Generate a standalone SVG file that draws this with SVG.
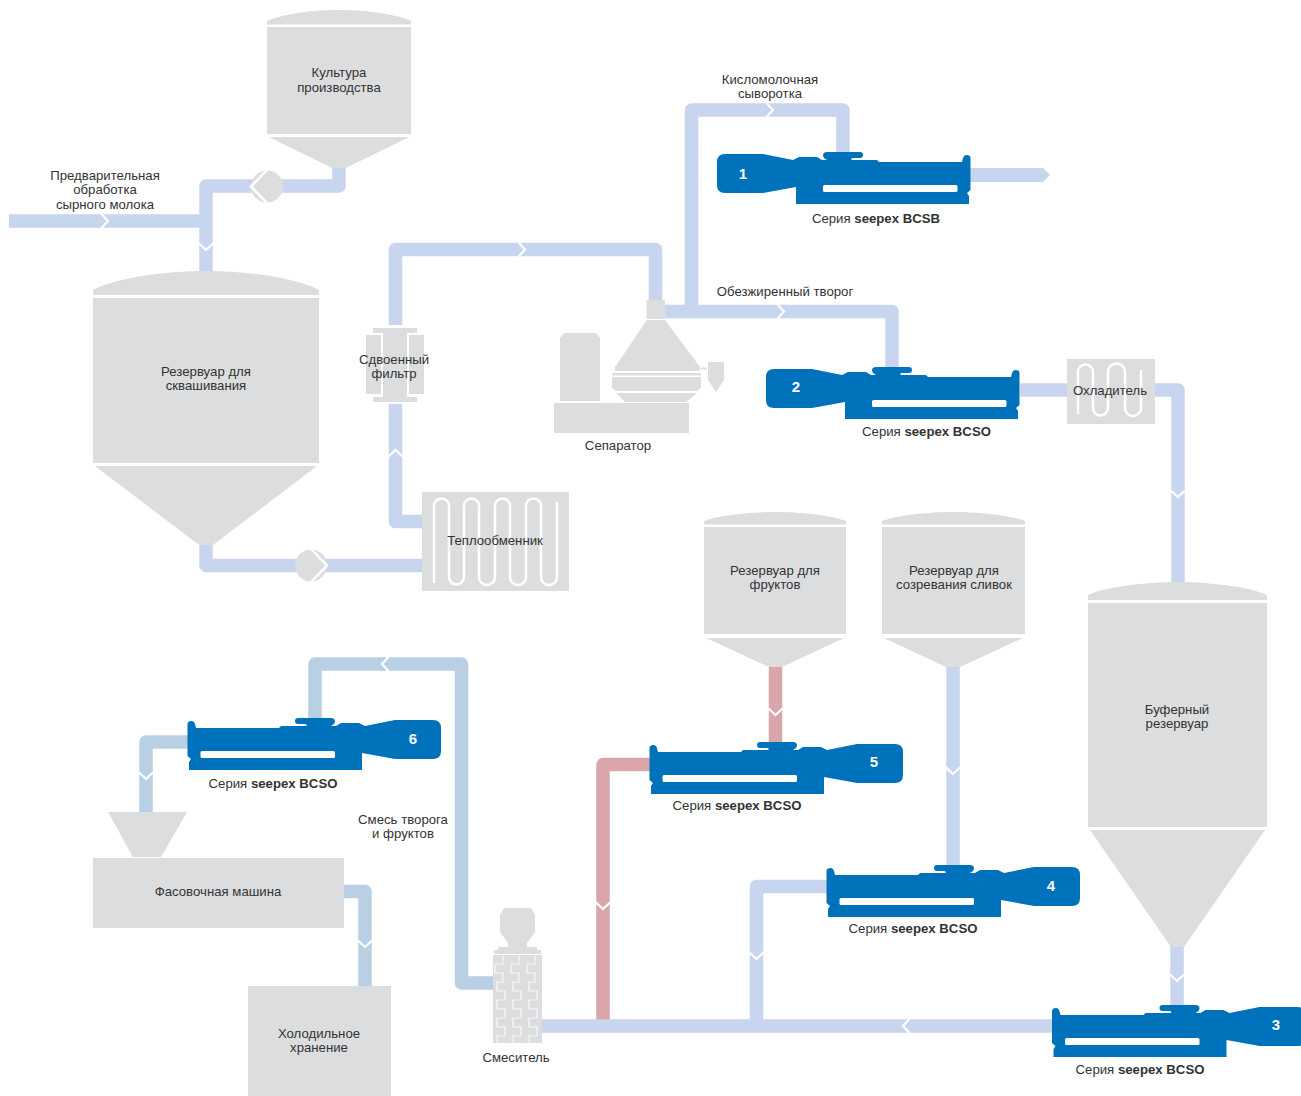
<svg xmlns="http://www.w3.org/2000/svg" xmlns:xlink="http://www.w3.org/1999/xlink" width="1301" height="1096" viewBox="0 0 1301 1096">
<style>
text{font-family:"Liberation Sans",Arial,sans-serif;font-size:13.2px;fill:#333;text-anchor:middle}
text.n{font-weight:bold;font-size:15px;fill:#fff}
.g{fill:#dcddde}
.w{fill:none;stroke:#fff;stroke-width:2.5}
.wt{fill:none;stroke:#f8f8f8;stroke-width:1.2}
.p{fill:none;stroke-width:13.5;stroke-linejoin:round}
.pb{stroke:#c7d5ef}
.pr{stroke:#d9a6a9}
.ps{stroke:#b9cfe4}
.c{fill:none;stroke:#fff;stroke-width:2.2}
</style>
<defs>
<path id="chev" class="c" d="M-7,-3.5 L0,3 L7,-3.5"/>
<g id="pump">
<path fill="#0072bc" d="M0,10 Q0,2 8,2 H46 L76,8 L82,5 H100 L105,8 H110 L107,6 Q105,3 107,1 Q108,0 110,0 H143 Q146,0 146,3 Q146,6 143,6 H136 Q133,7 135,8 H160 L162,10 H245 L246,6 Q247,3 249.500,3 Q253.500,3 253.500,6 V38 L250,41 L252,44 V52 H79 V35 L46,41 H8 Q0,41 0,33 Z"/>
<rect x="106" y="33" width="134.500" height="7" rx="1.500" fill="#fff"/>
</g>
<path id="mz" class="wt" d="M8,0 V9 H0 V18 H8 V27 H2 V36 H10 V45 H2 V54 H10 V63 H2 V72 H10 V81 H2 V88"/>
</defs>
<rect width="1301" height="1096" fill="#fff"/>

<g id="connectors">
<path class="p pb" d="M9,221 H206"/>
<path class="p pb" d="M206,272 V186 H339 V165"/>
<path class="p pb" d="M206,545 V565.500 H423"/>
<path class="p pb" d="M423,521.500 H395.500 V404"/>
<path class="p pb" d="M395.500,325 V249.500 H655.500 V301"/>
<path class="p pb" d="M665,311.500 H892 V368"/>
<path class="p pb" d="M691.500,311 V110 H843 V153"/>
<polygon fill="#c7d5ef" points="970,168 1043,168 1050,175 1043,182 970,182"/>
<path class="p pb" d="M1020,390 H1068"/>
<path class="p pb" d="M1155,390 H1178 V584"/>
<path class="p pb" d="M1177,945 V1006"/>
<path class="p pb" d="M953,666 V866"/>
<path class="p pr" d="M775.500,666 V743"/>
<path class="p pr" d="M650,764.500 H603 V1021"/>
<path class="p pb" d="M827,886.500 H756.500 V1021"/>
<path class="p pb" d="M541,1026 H1053"/>
<path class="p ps" d="M315,719 V664 H461.500 V983 H493"/>
<path class="p ps" d="M189,742 H146 V813"/>
<path class="p ps" d="M344,891.500 H365 V987"/>
<use xlink:href="#chev" href="#chev" transform="translate(105,221) rotate(-90)"/>
<use xlink:href="#chev" href="#chev" transform="translate(206,247)"/>
<use xlink:href="#chev" href="#chev" transform="translate(395.500,453) rotate(180)"/>
<use xlink:href="#chev" href="#chev" transform="translate(522,249.500) rotate(-90)"/>
<use xlink:href="#chev" href="#chev" transform="translate(770,110) rotate(-90)"/>
<use xlink:href="#chev" href="#chev" transform="translate(781,311.500) rotate(-90)"/>
<use xlink:href="#chev" href="#chev" transform="translate(1178,494)"/>
<use xlink:href="#chev" href="#chev" transform="translate(775.500,712)"/>
<use xlink:href="#chev" href="#chev" transform="translate(953,771)"/>
<use xlink:href="#chev" href="#chev" transform="translate(603,906)"/>
<use xlink:href="#chev" href="#chev" transform="translate(756.500,956)"/>
<use xlink:href="#chev" href="#chev" transform="translate(1177,978)"/>
<use xlink:href="#chev" href="#chev" transform="translate(906,1026) rotate(90)"/>
<use xlink:href="#chev" href="#chev" transform="translate(385,664) rotate(90)"/>
<use xlink:href="#chev" href="#chev" transform="translate(146,776)"/>
<use xlink:href="#chev" href="#chev" transform="translate(365,944)"/>
</g>

<g id="valve-1"><circle class="g" cx="267" cy="186.500" r="16"/><path class="w" d="M268,169 L251,186.500 L268,204"/></g>
<g id="valve-2"><circle class="g" cx="311" cy="565.500" r="16"/><path class="w" d="M310,548 L327,565.500 L310,583"/></g>

<g id="tank-culture">
<path class="g" d="M267,24.500 V21 C285,13 315,10 339,10 C363,10 393,13 411,21 V24.500 Z"/>
<rect class="g" x="267" y="27" width="144" height="107"/>
<polygon class="g" points="269,137 409,137 346,168 332,168"/>
<text x="339" y="77">Культура</text><text x="339" y="92">производства</text>
</g>
<g id="tank-souring">
<path class="g" d="M93,295 V290 C115,278 165,271 206,271 C247,271 297,278 319,290 V295 Z"/>
<rect class="g" x="93" y="298" width="226" height="165"/>
<polygon class="g" points="95,466 317,466 213,545 199,545"/>
<text x="206" y="376">Резервуар для</text><text x="206" y="390">сквашивания</text>
</g>
<g id="label-pretreatment">
<text x="105" y="180">Предварительная</text><text x="105" y="194">обработка</text><text x="105" y="209">сырного молока</text>
</g>
<g id="heat-exchanger">
<rect class="g" x="422" y="492" width="147" height="99"/>
<path class="w" d="M434,583 V506 A7.500,7.500 0 0 1 449,506 V577 A7.500,7.500 0 0 0 464,577 V506 A7.500,7.500 0 0 1 479,506 V577 A8,8 0 0 0 495,577 V506 A7.500,7.500 0 0 1 510,506 V577 A8,8 0 0 0 526,577 V506 A7.500,7.500 0 0 1 541,506 V577 A8,8 0 0 0 557,577 V502"/>
<text x="495" y="545">Теплообменник</text>
</g>
<g id="double-filter">
<rect class="g" x="373" y="328" width="44" height="5"/>
<rect class="g" x="373" y="397" width="44" height="5"/>
<rect class="g" x="383" y="333" width="24" height="64"/>
<rect class="g" x="366" y="335" width="15" height="59"/>
<rect class="g" x="409" y="335" width="15" height="59"/>
<text x="394" y="364">Сдвоенный</text><text x="394" y="378">фильтр</text>
</g>
<g id="separator">
<path class="g" d="M560,338 L564,333 H596 L600,338 V401 H560 Z"/>
<rect class="g" x="554" y="403" width="135" height="30"/>
<rect class="g" x="646.500" y="300" width="18.500" height="19"/>
<polygon class="g" points="647,320 665,320 700,367 700,371 615,371 615,367"/>
<rect class="g" x="612" y="373" width="89" height="2.500"/>
<polygon class="g" points="612,377 701,377 701,388 697,391 616,391 612,388"/>
<polygon class="g" points="616,393 697,393 686,402 625,402"/>
<rect class="g" x="701" y="367.500" width="6" height="2"/>
<polygon class="g" points="708,362 724,362 724,380 716,392 708,380"/>
<text x="618" y="450">Сепаратор</text>
</g>
<g id="label-whey"><text x="770" y="84">Кисломолочная</text><text x="770" y="98">сыворотка</text></g>
<g id="label-skim"><text x="785" y="296">Обезжиренный творог</text></g>
<g id="pump-1"><use xlink:href="#pump" href="#pump" transform="translate(717,152)"/><text class="n" x="743" y="179">1</text><text x="876" y="223">Серия <tspan font-weight="bold">seepex BCSB</tspan></text></g>
<g id="pump-2"><use xlink:href="#pump" href="#pump" transform="translate(766,367)"/><text class="n" x="796" y="392">2</text><text x="926.500" y="436">Серия <tspan font-weight="bold">seepex BCSO</tspan></text></g>
<g id="cooler">
<rect class="g" x="1067" y="359" width="88" height="65"/>
<path class="w" stroke-width="2" d="M1078,414 V372 A7.500,7.500 0 0 1 1093,372 V408 A7.500,7.500 0 0 0 1108,408 V372 A8.500,8.500 0 0 1 1125,372 V408 A8,8 0 0 0 1141,408 V370"/>
<text x="1110" y="395">Охладитель</text>
</g>
<g id="tank-buffer">
<path class="g" d="M1088,600 V595 C1105,587 1145,582 1177.500,582 C1210,582 1250,587 1267,595 V600 Z"/>
<rect class="g" x="1088" y="603" width="179" height="224"/>
<polygon class="g" points="1090,830 1265,830 1184,947 1171,947"/>
<text x="1177" y="714">Буферный</text><text x="1177" y="728">резервуар</text>
</g>
<g id="tank-fruit">
<path class="g" d="M704,524.500 V521 C720,515 750,512 775,512 C800,512 830,515 846,521 V524.500 Z"/>
<rect class="g" x="704" y="527" width="142" height="107"/>
<polygon class="g" points="706,638 844,638 782,667 769,667"/>
<text x="775" y="575">Резервуар для</text><text x="775" y="589">фруктов</text>
</g>
<g id="tank-cream">
<path class="g" d="M882,524.500 V521 C898,515 928,512 953.500,512 C979,512 1009,515 1025,521 V524.500 Z"/>
<rect class="g" x="882" y="527" width="143" height="107"/>
<polygon class="g" points="884,638 1023,638 960,667 946,667"/>
<text x="954" y="575">Резервуар для</text><text x="954" y="589">созревания сливок</text>
</g>
<g id="pump-3"><use xlink:href="#pump" href="#pump" transform="translate(1305.500,1005) scale(-1,1)"/><text class="n" x="1276" y="1030">3</text><text x="1140" y="1074">Серия <tspan font-weight="bold">seepex BCSO</tspan></text></g>
<g id="pump-4"><use xlink:href="#pump" href="#pump" transform="translate(1080,865) scale(-1,1)"/><text class="n" x="1051" y="891">4</text><text x="913" y="933">Серия <tspan font-weight="bold">seepex BCSO</tspan></text></g>
<g id="pump-5"><use xlink:href="#pump" href="#pump" transform="translate(903,742) scale(-1,1)"/><text class="n" x="874" y="767">5</text><text x="737" y="810">Серия <tspan font-weight="bold">seepex BCSO</tspan></text></g>
<g id="pump-6"><use xlink:href="#pump" href="#pump" transform="translate(441,718) scale(-1,1)"/><text class="n" x="413" y="744">6</text><text x="273" y="788">Серия <tspan font-weight="bold">seepex BCSO</tspan></text></g>
<g id="label-mix"><text x="403" y="824">Смесь творога</text><text x="403" y="838">и фруктов</text></g>
<g id="filler">
<polygon class="g" points="108,812 187,812 161,857 133,857"/>
<rect class="g" x="93" y="858" width="251" height="70"/>
<text x="218" y="896">Фасовочная машина</text>
</g>
<g id="cold-storage">
<rect class="g" x="248" y="986" width="143" height="110"/>
<text x="319" y="1038">Холодильное</text><text x="319" y="1052">хранение</text>
</g>
<g id="mixer">
<path class="g" d="M500,915 L504,908 H531 L535,915 V932 L527,943 V947 H537 V950 H541 V954 H494 V950 H498 V947 H508 V943 L500,932 Z"/>
<rect class="g" x="493" y="955" width="49" height="88"/>
<use xlink:href="#mz" href="#mz" transform="translate(495,955)"/>
<use xlink:href="#mz" href="#mz" transform="translate(511,955)"/>
<use xlink:href="#mz" href="#mz" transform="translate(527,955)"/>
<text x="516" y="1062">Смеситель</text>
</g>
</svg>
